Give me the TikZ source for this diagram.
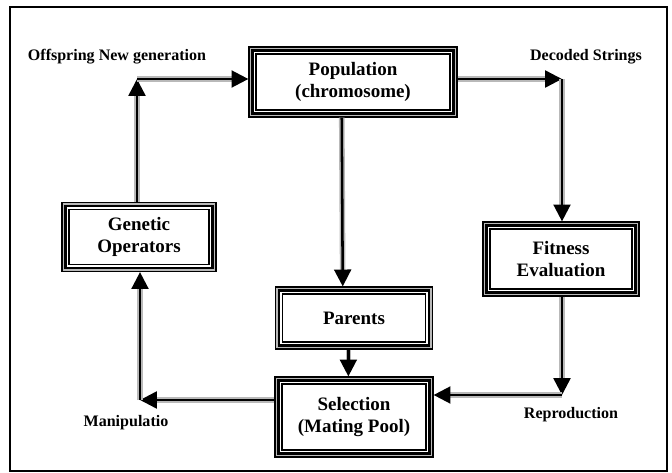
\documentclass[tikz,border=0pt]{standalone}
\usepackage{fontspec}
\setmainfont{Liberation Serif}
\usetikzlibrary{arrows.meta, calc}

\begin{document}
\begin{tikzpicture}[x=0.025cm, y=-0.025cm,
    box/.style={draw, line width=0.9pt, outer sep=5.4pt, inner sep=0pt, align=center,
      font=\fontsize{13.5}{15.5}\selectfont\bfseries},
    lbl/.style={font=\fontsize{11.4}{13}\selectfont\bfseries},
    arr/.style={-{Triangle[length=12pt, width=12pt]}, line width=1.8pt,
      preaction={draw, gray!55, line width=4pt, arrows=-, shorten >=8pt}}]
  \useasboundingbox (0,0) rectangle (672,473);
  \draw[line width=1.3pt] (10,7) rectangle (667,471);

  % boxes
  \node[box, minimum width=4.85cm, minimum height=1.4cm] (pop) at (353,82) {Population\\(chromosome)};
  \node[box, minimum width=3.5cm, minimum height=1.375cm] (gen) at (139,237) {Genetic\\Operators};
  \node[box, minimum width=3.55cm, minimum height=1.5cm] (fit) at (561,259) {Fitness\\Evaluation};
  \node[box, minimum width=3.575cm, minimum height=1.2cm] (par) at (354,318) {Parents};
  \node[box, minimum width=3.6cm, minimum height=1.65cm] (sel) at (354,417) {Selection\\(Mating Pool)};

  % triple frames
  \foreach \n in {pop,gen,fit,par,sel} {
    \draw[gray!55, line width=2.6pt] ([shift={(1.5pt,1.5pt)}]\n.south west) rectangle ([shift={(-1.5pt,-1.5pt)}]\n.north east);
    \draw[line width=1pt] ([shift={(0.5pt,0.5pt)}]\n.south west) rectangle ([shift={(-0.5pt,-0.5pt)}]\n.north east);
    \draw[line width=1.6pt] ([shift={(3pt,3pt)}]\n.south west) rectangle ([shift={(-3pt,-3pt)}]\n.north east);
  }

  % corners
  \coordinate (tl) at (137,79);
  \coordinate (tr) at (562,79);
  \coordinate (br) at (562,395);
  \coordinate (bl) at (140,400);

  % connectors
  \draw[arr] (gen.north -| tl) -- (tl);
  \draw[arr] (tl) -- (tl -| pop.west);
  \draw[arr] (pop.east |- tr) -- (tr);
  \draw[arr] (tr) -- (tr |- fit.north);
  \draw[arr] (fit.south -| br) -- (br);
  \draw[arr] (br) -- (br -| sel.east);
  \draw[arr] (sel.west |- bl) -- (bl);
  \draw[arr] (bl) -- (bl |- gen.south);
  \draw[arr] ([xshift=-8pt]pop.south) -- ([xshift=-8pt]par.north);
  \draw[arr] ([xshift=-4pt]par.south) -- ([xshift=-4pt]sel.north);

  % labels
  \node[lbl] (offs) at (117,57) {Offspring New generation};
  \node[lbl] (dec) at (586,57) {Decoded Strings};
  \node[lbl] (man) at (126,423) {Manipulatio};
  \node[lbl] (rep) at (571,415) {Reproduction};
\end{tikzpicture}
\end{document}
